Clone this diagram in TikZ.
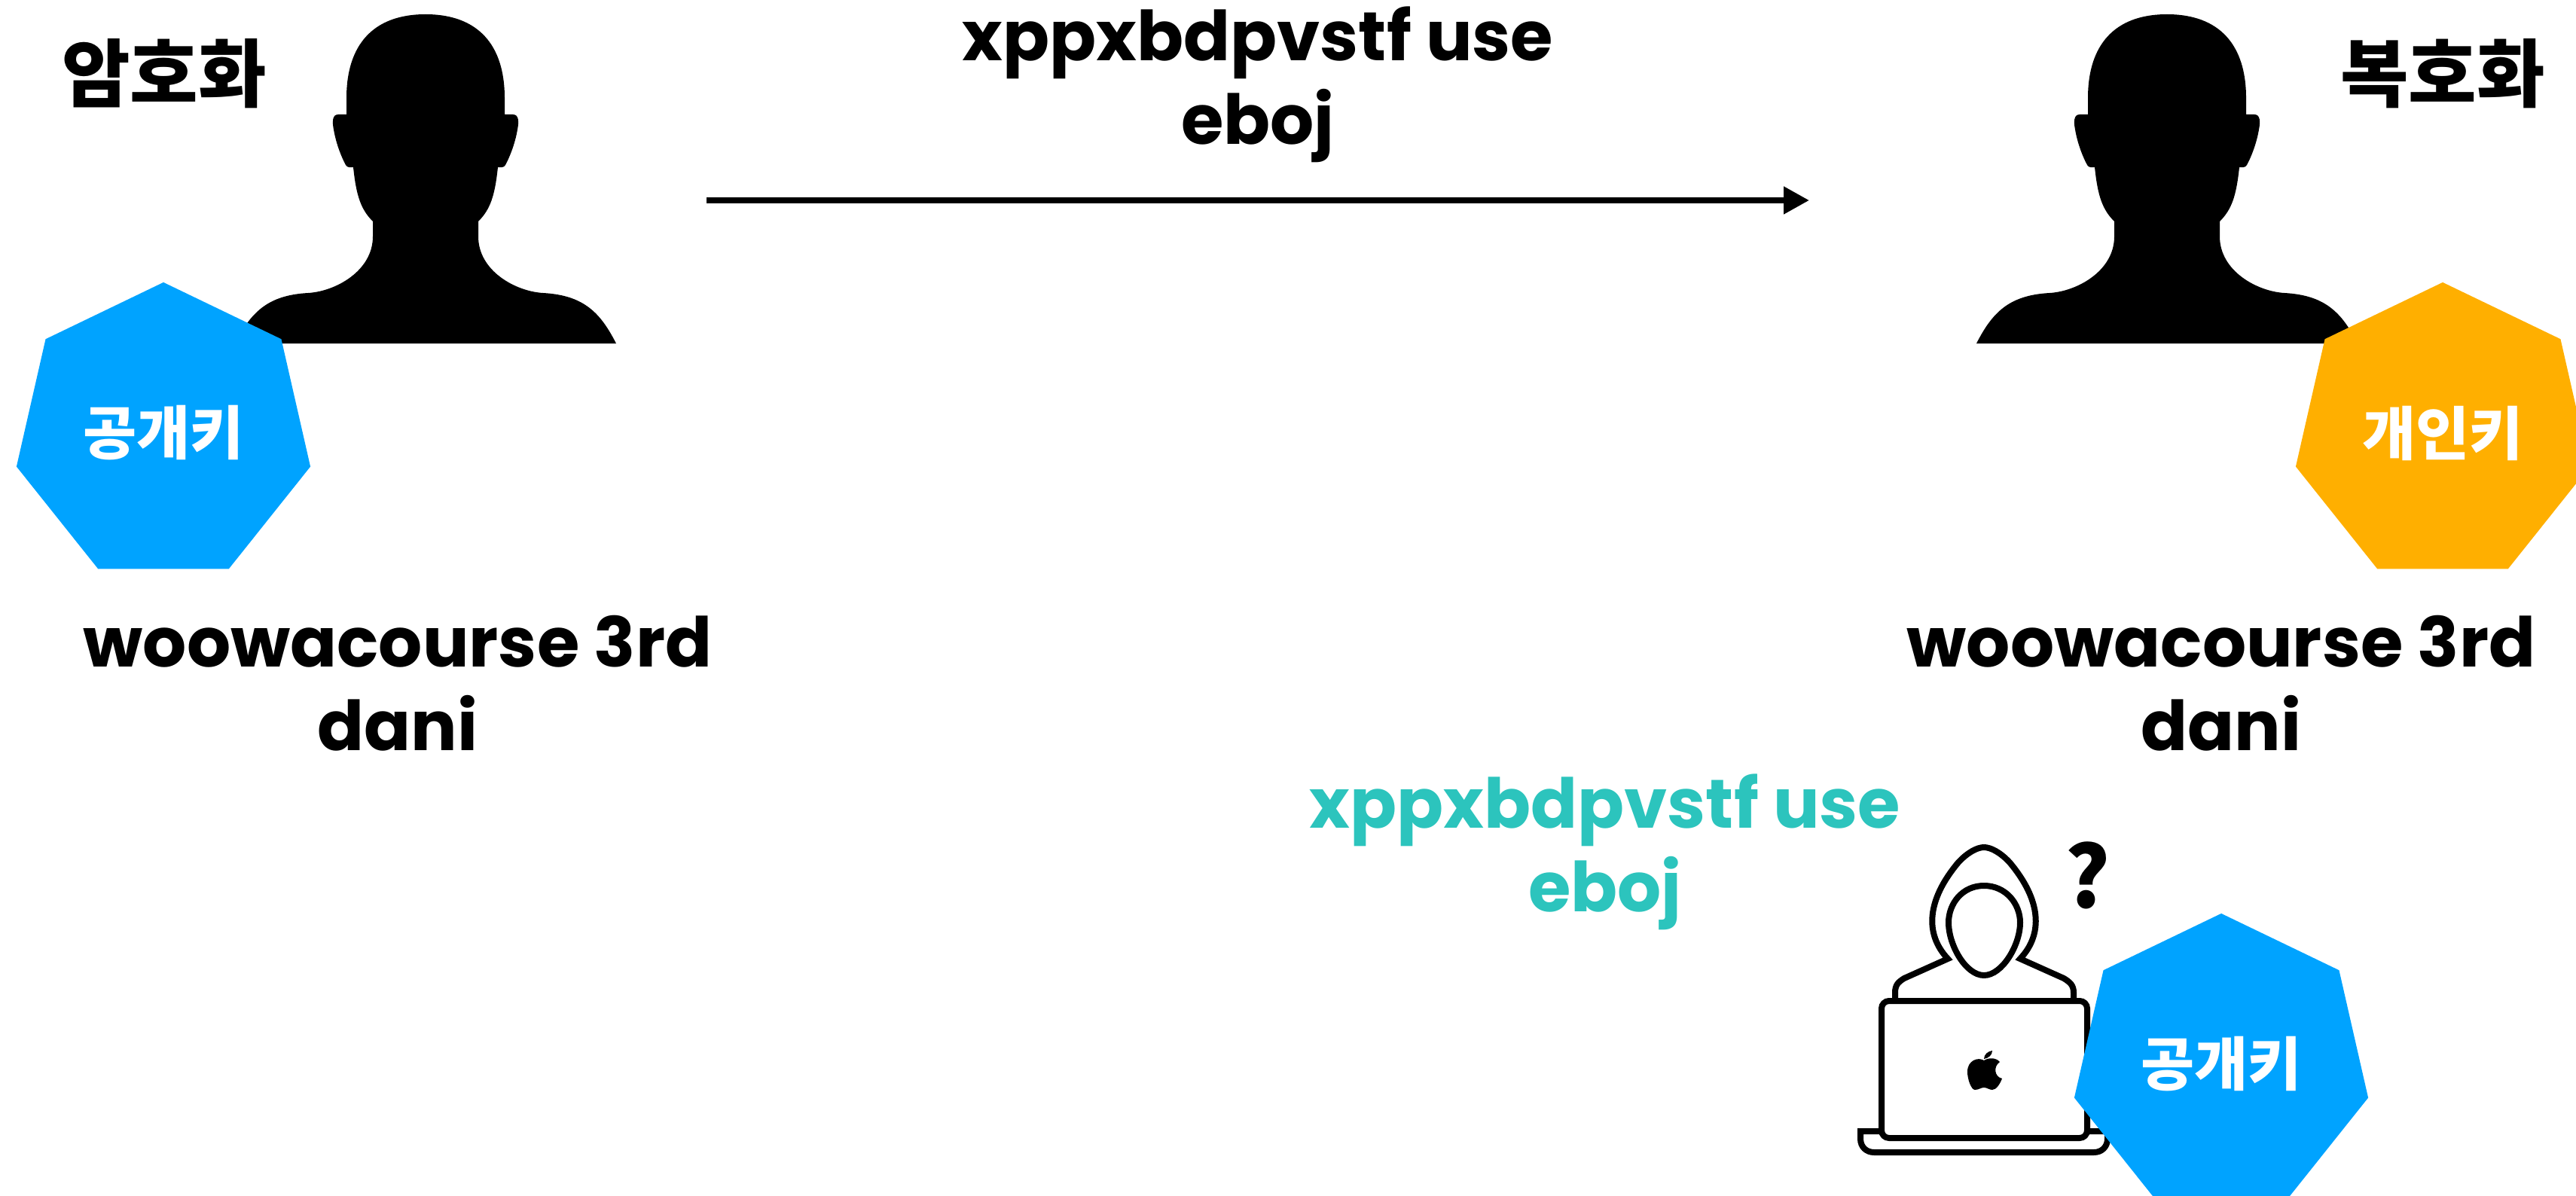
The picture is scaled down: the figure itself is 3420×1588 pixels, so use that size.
\documentclass[tikz,border=0pt]{standalone}
\usepackage{fontspec}
\usepackage{tikz}
\usetikzlibrary{arrows.meta, shapes.geometric}
\setmainfont{Poppins}
\newfontfamily\krfont{Noto Sans CJK KR Black}
\definecolor{pubblue}{HTML}{00A3FF}
\definecolor{privorange}{HTML}{FFAF00}
\definecolor{cipherteal}{HTML}{2CC4BD}
\tikzset{
	keynode/.style={regular polygon, regular polygon sides=7, minimum size=4cm, inner sep=0pt, text=white, font=\krfont\fontsize{22}{27}\selectfont},
	titlenode/.style={font=\krfont\fontsize{28}{34}\selectfont},
	textnode/.style={align=center, font=\bfseries\fontsize{26}{31.5}\selectfont},
	iconline/.style={draw=black, line width=0.08cm, fill=white},
	person/.pic={
		\fill[black] (0,19) .. controls (70,19) and (105,60) .. (105,130) -- (105,152)
			-- (116,152) .. controls (124,152) and (124,162) .. (122,172) .. controls (119,190) and (112,208) .. (106,219) .. controls (104,223) and (100,222) .. (96,222)
			.. controls (92,260) and (86,278) .. (70,294) -- (70,314) .. controls (70,360) and (120,387) .. (156,389) .. controls (210,392) and (232,415) .. (253,456)
			-- (-253,456) .. controls (-232,415) and (-210,392) .. (-156,389) .. controls (-120,387) and (-70,360) .. (-70,314) -- (-70,294)
			.. controls (-86,278) and (-92,260) .. (-96,222) .. controls (-100,222) and (-104,223) .. (-106,219) .. controls (-112,208) and (-119,190) .. (-122,172)
			.. controls (-124,162) and (-124,152) .. (-116,152) -- (-105,152) -- (-105,130) .. controls (-105,60) and (-70,19) .. (0,19) -- cycle;
	}
}
\begin{document}
\begin{tikzpicture}[x=0.01cm, y=-0.01cm]
	\useasboundingbox (0,0) rectangle (3420,1588);

	\pic at (565,0) {person};
	\pic at (2877,0) {person};

	\node[titlenode] (encrypt) at (218,98) {암호화};
	\node[titlenode] (decrypt) at (3243,98) {복호화};

	\node[keynode, fill=pubblue] (leftkey) at (217,575) {공개키};
	\node[keynode, fill=privorange] (rightkey) at (3243,575) {개인키};

	\node[textnode] (leftname) at (528,907) {woowacourse 3rd\\dani};
	\node[textnode] (rightname) at (2949,907) {woowacourse 3rd\\dani};
	\node[textnode] (message) at (1670,112) {xppxbdpvstf use\\eboj};
	\node[textnode, text=cipherteal] (stolen) at (2131,1131) {xppxbdpvstf use\\eboj};

	\coordinate (sendstart) at (938,266);
	\coordinate (sendend) at (2402,266);
	\draw[line width=0.08cm, -{Triangle[length=0.34cm, width=0.35cm]}] (sendstart) -- (sendend);

	\draw[iconline] (2516,1329) -- (2516,1318) .. controls (2516,1308) and (2520,1304) .. (2528,1299) -- (2586,1273)
		.. controls (2555,1240) and (2558,1195) .. (2600,1145) .. controls (2612,1132) and (2625,1125) .. (2634,1125)
		.. controls (2643,1125) and (2656,1132) .. (2668,1145) .. controls (2710,1195) and (2713,1240) .. (2682,1273)
		-- (2740,1299) .. controls (2748,1304) and (2753,1308) .. (2753,1318) -- (2753,1329);
	\draw[iconline] (2634,1176) .. controls (2605,1176) and (2587,1200) .. (2587,1225) .. controls (2587,1255) and (2610,1295) .. (2634,1295)
		.. controls (2658,1295) and (2682,1255) .. (2682,1225) .. controls (2682,1200) and (2663,1176) .. (2634,1176) -- cycle;
	\draw[iconline] (2470,1502) -- (2470,1512) .. controls (2470,1523) and (2478,1530) .. (2488,1530) -- (2780,1530) .. controls (2790,1530) and (2798,1523) .. (2798,1512) -- (2798,1502) -- cycle;
	\draw[iconline, rounded corners=0.1cm] (2498,1329) rectangle (2771,1511);
	\fill[black] (2634,1408) .. controls (2640,1404) and (2650,1404) .. (2655,1410) .. controls (2646,1416) and (2648,1430) .. (2658,1432)
		.. controls (2655,1440) and (2650,1447) .. (2645,1447) .. controls (2641,1447) and (2638,1444) .. (2634,1444) .. controls (2630,1444) and (2627,1447) .. (2622,1447)
		.. controls (2617,1447) and (2612,1433) .. (2612,1423) .. controls (2612,1408) and (2626,1403) .. (2634,1408) -- cycle;
	\fill[black] (2634,1406) .. controls (2634,1400) and (2639,1396) .. (2645,1395) .. controls (2645,1401) and (2640,1405) .. (2634,1406) -- cycle;
	\node[font=\krfont\fontsize{32}{38}\selectfont] (question) at (2772,1162) {?};

	\node[keynode, fill=pubblue] (stolenkey) at (2949,1413) {공개키};
\end{tikzpicture}
\end{document}
